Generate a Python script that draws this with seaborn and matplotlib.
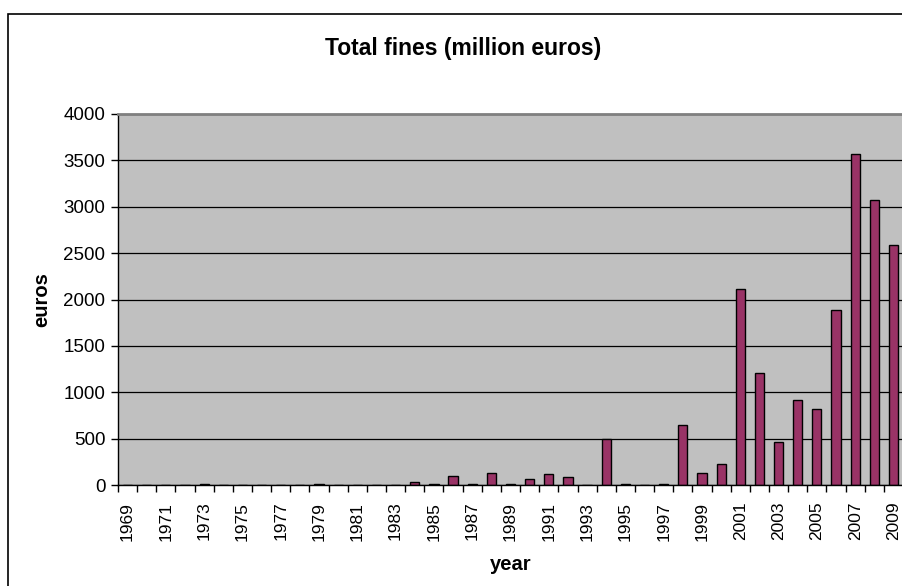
import matplotlib
matplotlib.use("Agg")
import matplotlib.pyplot as plt
import seaborn as sns
import pandas as pd
from matplotlib.patches import Rectangle

years = list(range(1969, 2010))
fines = [0, 0, 0, 0, 10, 0, 0, 0, 0, 0,
         10, 0, 0, 0, 0, 35, 15, 97, 15, 133,
         15, 65, 115, 83, 0, 495, 10, 0, 10, 647,
         130, 227, 2115, 1210, 468, 920, 824, 1890, 3570, 3070,
         2585]
yticks = [0, 500, 1000, 1500, 2000, 2500, 3000, 3500, 4000]

df = pd.DataFrame({"year": [str(y) for y in years], "fines": fines})

sns.set_theme(style="white")
plt.rcParams['font.family'] = ['Liberation Sans', 'DejaVu Sans']
plt.rcParams['text.color'] = 'black'
plt.rcParams['axes.labelcolor'] = 'black'
plt.rcParams['xtick.color'] = 'black'
plt.rcParams['ytick.color'] = 'black'

W, H = 902, 586
fig = plt.figure(figsize=(W / 100, H / 100), dpi=100)
fig.patch.set_facecolor("white")

# chart area border
fig.add_artist(Rectangle((8 / W, -0.05), 1.2, (H - 14) / H + 0.05, transform=fig.transFigure,
                         fill=False, edgecolor="black", linewidth=1.2))

ax = fig.add_axes([118 / W, 1 - 485 / H, 785 / W, 371 / H])
ax.set_facecolor("#C0C0C0")

sns.barplot(data=df, x="year", y="fines", ax=ax, color="#993366", width=0.48,
            edgecolor="black", linewidth=1.0, saturation=1)

ax.set_xlim(-0.5, len(years) - 0.5)
ax.set_ylim(0, 4000)
ax.set_yticks(yticks)
ax.set_yticklabels([str(v) for v in yticks], fontsize=13.5)
ax.yaxis.grid(True, color="black", linewidth=0.9)
ax.set_axisbelow(True)

ax.set_xticks(range(len(years)))
ax.set_xticklabels([str(y) if i % 2 == 0 else "" for i, y in enumerate(years)],
                   rotation=90, fontsize=12.5)
ax.set_xticks([i + 0.5 for i in range(-1, len(years))], minor=True)
ax.tick_params(axis="x", which="major", length=0, pad=12)
ax.tick_params(axis="x", which="minor", length=5, width=1, color="black", direction="out", bottom=True)
ax.tick_params(axis="y", length=5, width=1, color="black", direction="out", left=True, pad=4)

for s in ["top", "right"]:
    ax.spines[s].set_color("#808080")
    ax.spines[s].set_linewidth(2)
ax.spines["left"].set_color("black")
ax.spines["bottom"].set_color("black")
ax.spines["left"].set_linewidth(1)
ax.spines["bottom"].set_linewidth(1)

ax.set_xlabel("year", fontsize=14.5, fontweight="bold", labelpad=10)
ax.set_ylabel("euros", fontsize=14.5, fontweight="bold", labelpad=9)

fig.text(463 / W, 1 - 49 / H, "Total fines (million euros)", ha="center", va="center",
         fontsize=16.5, fontweight="bold")

fig.savefig("out.png", dpi=100)
